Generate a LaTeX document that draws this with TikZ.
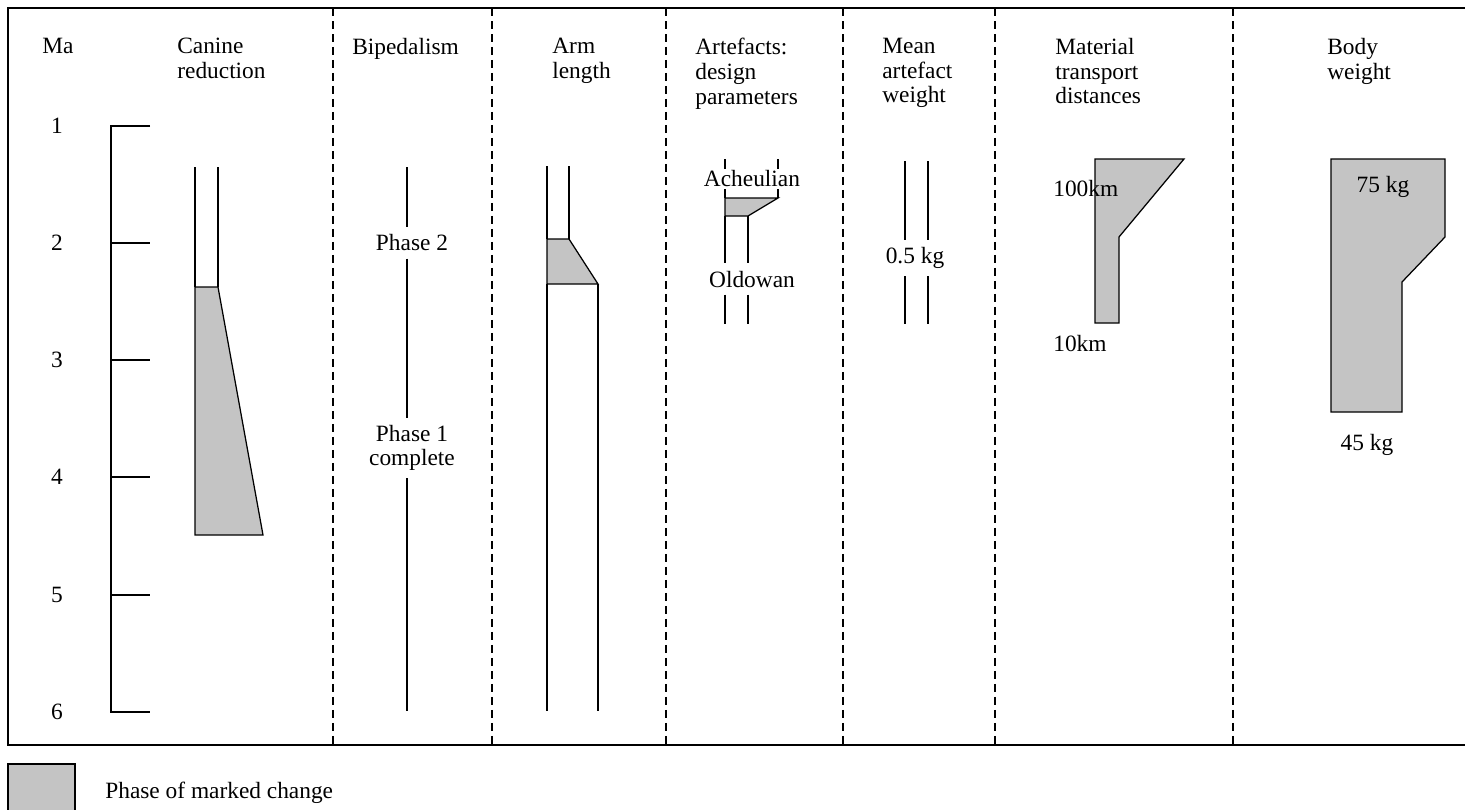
\documentclass[tikz,border=0pt]{standalone}
\usepackage{fontspec}
\setmainfont{Liberation Serif}
\usetikzlibrary{positioning}

\tikzset{
  txt/.style={inner sep=0pt, font=\fontsize{13.3}{14}\selectfont},
  head/.style={txt, align=left, anchor=north west},
  gap/.style={txt, align=center, fill=white, inner xsep=1pt, inner ysep=4pt},
  frame/.style={line width=0.035cm},
  bar/.style={line width=0.025cm},
  sep/.style={line width=0.022cm, dash pattern=on 0.16cm off 0.1cm},
  change/.style={bar, fill=black!23}
}

\begin{document}
\begin{tikzpicture}[x=0.02cm, y=-0.02cm]
\useasboundingbox (0,0) rectangle (1465,809);

% Drawing frame
\draw [frame] (1465,8) -- (8,8) -- (8,745) -- (1465,745);%

% Drawing column separators
\foreach \sx in {333,492,666,843,995,1233}
  \draw [sep] (\sx,8) -- (\sx,745);%

% Column heads
\node [head] (ma) at (42,38) {Ma};%
\node [head] (canine) at (177,38) {Canine\\reduction};%
\node [head] (biped) at (352,38) {Bipedalism};%
\node [head] (arm) at (552,38) {Arm\\length};%
\node [head] (artefacts) at (695,38) {Artefacts:\\design\\parameters};%
\node [head] (mean) at (882,38) {Mean\\artefact\\weight};%
\node [head] (transport) at (1055,38) {Material\\transport\\distances};%
\node [head] (body) at (1327,38) {Body\\weight};%

% Drawing time scale
\draw [bar] (150,126) -- (111,126) -- (111,712) -- (150,712);%
\foreach \ma/\ty in {1/126,2/243,3/360,4/477,5/595,6/712} {
  \draw [bar] (111,\ty) -- (150,\ty);%
  \node [txt] (ma\ma) at (57,\ty) {\ma};%
}

% Canine reduction
\draw [bar] (195,167) -- (195,287);%
\draw [bar] (218,167) -- (218,287);%
\draw [change] (195,287) -- (218,287) -- (263,535) -- (195,535) -- cycle;%

% Bipedalism
\node [gap] (phaseii) at (412,243) {Phase 2};%
\node [gap] (phasei) at (412,448) {Phase 1\\complete};%
\coordinate (bipedtop) at (407,167);%
\coordinate (bipedend) at (407,711);%
\draw [bar] (bipedtop) -- (bipedtop |- phaseii.north);%
\draw [bar] (bipedtop |- phaseii.south) -- (bipedtop |- phasei.north);%
\draw [bar] (bipedtop |- phasei.south) -- (bipedend);%

% Arm length
\draw [bar] (547,166) -- (547,239);%
\draw [bar] (569,166) -- (569,239);%
\draw [change] (547,239) -- (569,239) -- (598,284) -- (547,284) -- cycle;%
\draw [bar] (547,284) -- (547,711);%
\draw [bar] (598,284) -- (598,711);%

% Artefacts: design parameters
\node [gap, inner ysep=1pt] (acheulian) at (752,179) {Acheulian};%
\node [gap] (oldowan) at (752,279) {Oldowan};%
\draw [bar] (725,159) -- (725,0 |- acheulian.north);%
\draw [bar] (778,159) -- (778,0 |- acheulian.north);%
\draw [bar] (725,0 |- acheulian.south) -- (725,198);%
\draw [bar] (778,0 |- acheulian.south) -- (778,198);%
\draw [change] (725,198) -- (778,198) -- (748,216) -- (725,216) -- cycle;%
\draw [bar] (725,216) -- (725,0 |- oldowan.north);%
\draw [bar] (748,216) -- (748,0 |- oldowan.north);%
\draw [bar] (725,0 |- oldowan.south) -- (725,324);%
\draw [bar] (748,0 |- oldowan.south) -- (748,324);%

% Mean artefact weight
\node [gap] (halfkg) at (915,258) {0.5 kg};%
\draw [bar] (905,161) -- (905,0 |- halfkg.north);%
\draw [bar] (928,161) -- (928,0 |- halfkg.north);%
\draw [bar] (905,0 |- halfkg.south) -- (905,324);%
\draw [bar] (928,0 |- halfkg.south) -- (928,324);%

% Material transport distances
\draw [change] (1095,159) -- (1184,159) -- (1119,237) -- (1119,323) -- (1095,323) -- cycle;%
\node [txt, anchor=west] (km100) at (1053,189) {100km};%
\node [txt, anchor=west] (km10) at (1053,343) {10km};%

% Body weight
\draw [change] (1331,159) -- (1445,159) -- (1445,237) -- (1402,282) -- (1402,412) -- (1331,412) -- cycle;%
\node [txt] (kg75) at (1383,187) {75 kg};%
\node [txt] (kg45) at (1367,445) {45 kg};%

% Legend
\draw [change] (8,764) rectangle (75,815);%
\node [txt, anchor=west] (legend) at (105,793) {Phase of marked change};%
\end{tikzpicture}
\end{document}
